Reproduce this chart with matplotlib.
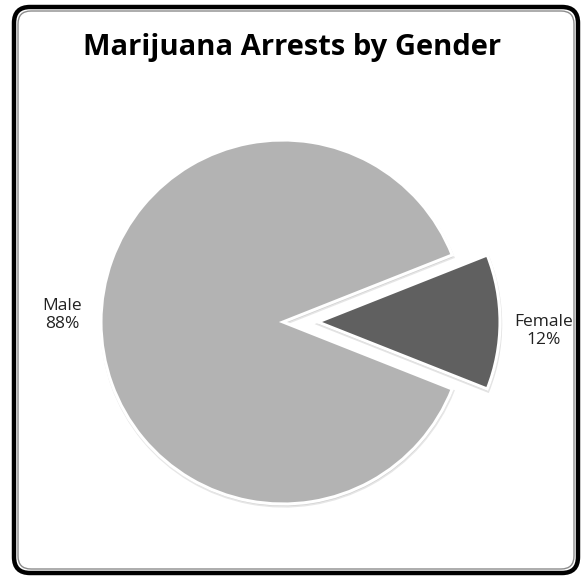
import matplotlib
matplotlib.use("Agg")
import matplotlib.pyplot as plt
from matplotlib.patches import FancyBboxPatch

# data
categories = ["Male", "Female"]
shares = [88, 12]
colors = ["#b3b3b3", "#606060"]
explode = [0.0, 35]  # in pixel units, the axes below are laid out in pixels

W, H = 584, 578
fig = plt.figure(figsize=(W / 100, H / 100), dpi=100)
ax = fig.add_axes([0, 0, 1, 1])

# rounded frame: thick black outer, thin grey inner
outer = FancyBboxPatch((14, 5), 564, 566, boxstyle="round,pad=0,rounding_size=16",
                       fc="white", ec="black", lw=3.2, zorder=0)
inner = FancyBboxPatch((18, 9), 556, 558, boxstyle="round,pad=0,rounding_size=13",
                       fc="none", ec="#8c8c8c", lw=1.0, zorder=1)
ax.add_patch(outer)
ax.add_patch(inner)

labels = [f"{c}\n{v}%" for c, v in zip(categories, shares)]
wedges, texts = ax.pie(shares, colors=colors, explode=explode, startangle=21.6,
                       center=(283, H - 322), radius=182, labels=labels,
                       labeldistance=1.2, frame=True,
                       shadow=dict(ox=0.5, oy=-1.5, alpha=0.12),
                       wedgeprops=dict(edgecolor="white", linewidth=2.2),
                       textprops=dict(fontsize=12.5, family="Open Sans",
                                      color="#222222"))
for t in texts:
    t.set_multialignment("center")
    t.set_horizontalalignment("center")
texts[0].set_position((62, H - 315))
texts[1].set_position((544, H - 331))
ax.set_xlim(0, W)
ax.set_ylim(0, H)
ax.set_aspect("equal")
ax.axis("off")

ax.text(292, H - 47, "Marijuana Arrests by Gender", ha="center", va="center",
        fontsize=21, fontweight="bold", family="Open Sans", color="black")

fig.savefig("out.png", dpi=100, facecolor="white")
